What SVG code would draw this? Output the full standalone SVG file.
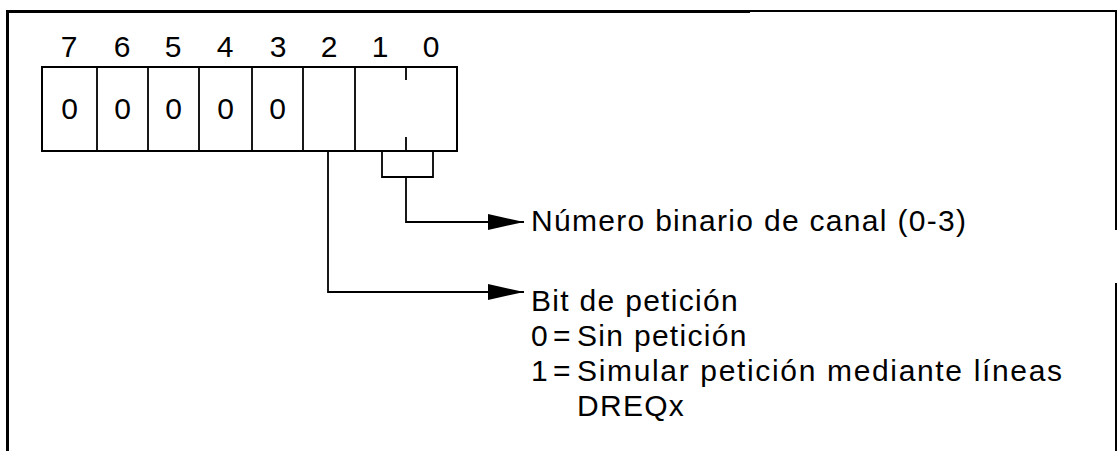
<svg xmlns="http://www.w3.org/2000/svg" width="1118" height="451" viewBox="0 0 1118 451">
<defs>
<style>
text{font-family:"Liberation Sans",Arial,Helvetica,sans-serif;fill:#000}
.d{font-size:30px;text-anchor:middle}
.t{font-size:30px;letter-spacing:1.3px}
.ln{fill:none;stroke:#000;stroke-width:1.8}
.fr{fill:none;stroke:#000}
</style>
<marker id="ah" viewBox="0 0 36 16" refX="36" refY="8" markerWidth="36" markerHeight="16" markerUnits="userSpaceOnUse" orient="auto">
<path d="M0,0 L36,8 L0,16 Z" fill="#000"/>
</marker>
</defs>
<rect width="1118" height="451" fill="#fff"/>
<g id="frame">
<path class="fr" stroke-width="3" d="M7.5,451 V11.5 H750"/>
<path class="fr" stroke-width="2" d="M750,11 H1116 V230"/>
<path class="fr" stroke-width="2" d="M1116,283 V451"/>
</g>
<g id="bit-labels">
<text class="d" x="69" y="57">7</text>
<text class="d" x="122" y="57">6</text>
<text class="d" x="173" y="57">5</text>
<text class="d" x="225" y="57">4</text>
<text class="d" x="278" y="57">3</text>
<text class="d" x="329" y="57">2</text>
<text class="d" x="380" y="57">1</text>
<text class="d" x="431" y="57">0</text>
</g>
<g id="register">
<rect x="42" y="67" width="415" height="84" fill="none" stroke="#000" stroke-width="2"/>
<path class="ln" d="M97,67 V151 M148,67 V151 M199,67 V151 M252,67 V151 M303,67 V151 M355,67 V151 M406,67 V80 M406,137 V151"/>
<text class="d" x="69.5" y="119">0</text>
<text class="d" x="122.5" y="119">0</text>
<text class="d" x="173.5" y="119">0</text>
<text class="d" x="225.5" y="119">0</text>
<text class="d" x="277.5" y="119">0</text>
</g>
<g id="connectors">
<path class="ln" d="M382,151 V177 H433 V151"/>
<path class="ln" d="M406,177 V222 H524" marker-end="url(#ah)"/>
<path class="ln" d="M328,151 V292 H524" marker-end="url(#ah)"/>
</g>
<g id="label-canal">
<text class="t" x="531" y="231">Número binario de canal (0-3)</text>
</g>
<g id="label-peticion">
<text class="t" x="531" y="311">Bit de petición</text>
<text class="t" y="346" style="letter-spacing:0"><tspan x="531">0</tspan><tspan x="553">=</tspan><tspan x="577" style="letter-spacing:1.3px">Sin petición</tspan></text>
<text class="t" y="381" style="letter-spacing:0"><tspan x="531">1</tspan><tspan x="553">=</tspan><tspan x="577" textLength="485" lengthAdjust="spacing">Simular petición mediante líneas</tspan></text>
<text class="t" x="577" y="416">DREQx</text>
</g>
</svg>
